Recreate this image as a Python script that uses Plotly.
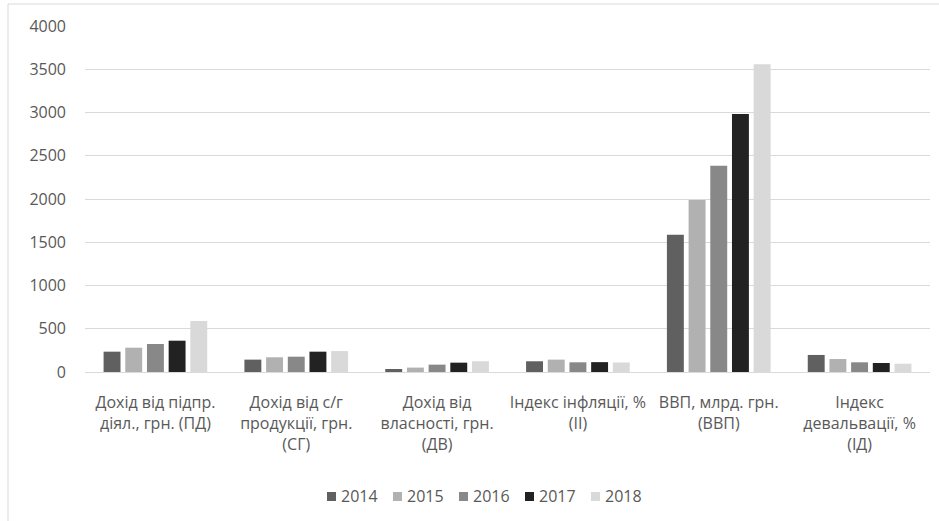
import plotly.graph_objects as go

categories = [
    "Дохід від підпр.<br>діял., грн. (ПД)",
    "Дохід від с/г<br>продукції, грн.<br>(СГ)",
    "Дохід від<br>власності, грн.<br>(ДВ)",
    "Індекс інфляції, %<br>(ІІ)",
    "ВВП, млрд. грн.<br>(ВВП)",
    "Індекс<br>девальвації, %<br>(ІД)",
]
years = ["2014", "2015", "2016", "2017", "2018"]
v2014 = [235, 143, 35, 124, 1587, 197]
v2015 = [281, 170, 51, 143, 1989, 150]
v2016 = [324, 177, 85, 112, 2385, 112]
v2017 = [362, 235, 108, 114, 2983, 104]
v2018 = [590, 242, 124, 110, 3558, 96]
series = [v2014, v2015, v2016, v2017, v2018]
colors = ["#606060", "#b1b1b1", "#888888", "#222222", "#d9d9d9"]
y_ticks = [0, 500, 1000, 1500, 2000, 2500, 3000, 3500, 4000]

W, H = 939, 521
ML, MR, MT, MB = 85, 9, 26, 149
pw, ph = W - ML - MR, H - MT - MB

FONT = "Open Sans"
GREY = "#595959"
FS = 16

fig = go.Figure()
for yr, vals, c in zip(years, series, colors):
    fig.add_trace(go.Bar(name=yr, x=categories, y=vals, showlegend=False,
                         marker=dict(color=c, line=dict(width=0))))


def px_x(x):
    return (x - ML) / pw


def px_y(y):
    return (H - MB - y) / ph


shapes = [
    dict(type="line", xref="paper", yref="paper", x0=px_x(8), x1=px_x(8),
         y0=px_y(4), y1=px_y(H + 2), line=dict(color="#d9d9d9", width=1)),
    dict(type="line", xref="paper", yref="paper", x0=px_x(8), x1=px_x(W + 5),
         y0=px_y(4), y1=px_y(4), line=dict(color="#d9d9d9", width=1)),
]
annotations = []
# manual legend (horizontal, centred under the plot)
leg_y = 496.5
pitch = 66
sq = 9
start = 327
for i, (yr, c) in enumerate(zip(years, colors)):
    x0 = start + i * pitch
    shapes.append(dict(type="rect", xref="paper", yref="paper",
                       x0=px_x(x0), x1=px_x(x0 + sq),
                       y0=px_y(leg_y + sq / 2), y1=px_y(leg_y - sq / 2),
                       fillcolor=c, line=dict(width=0)))
    annotations.append(dict(xref="paper", yref="paper", x=px_x(x0 + 12), y=px_y(leg_y),
                            xanchor="left", yanchor="middle", showarrow=False,
                            text=yr, font=dict(family=FONT, size=FS, color=GREY)))

fig.update_layout(
    width=W, height=H,
    margin=dict(l=ML, r=MR, t=MT, b=MB, pad=0),
    paper_bgcolor="white", plot_bgcolor="white",
    barmode="group", bargap=0.23, bargroupgap=0.22,
    font=dict(family=FONT, size=FS, color=GREY),
    showlegend=False,
    xaxis=dict(showgrid=False, showline=True, linecolor="#d9d9d9", linewidth=1,
               ticks="", tickfont=dict(size=FS, color=GREY), ticklabelstandoff=16),
    yaxis=dict(range=[0, 4000], tickvals=y_ticks, showgrid=True, gridcolor="#d9d9d9",
               gridwidth=1, zeroline=False, showline=False, ticks="",
               tickfont=dict(size=FS, color=GREY), ticklabelstandoff=18),
    shapes=shapes,
    annotations=annotations,
)

fig.write_html("out.html", config={"displayModeBar": False},
               post_script="document.body.style.margin='0';")
